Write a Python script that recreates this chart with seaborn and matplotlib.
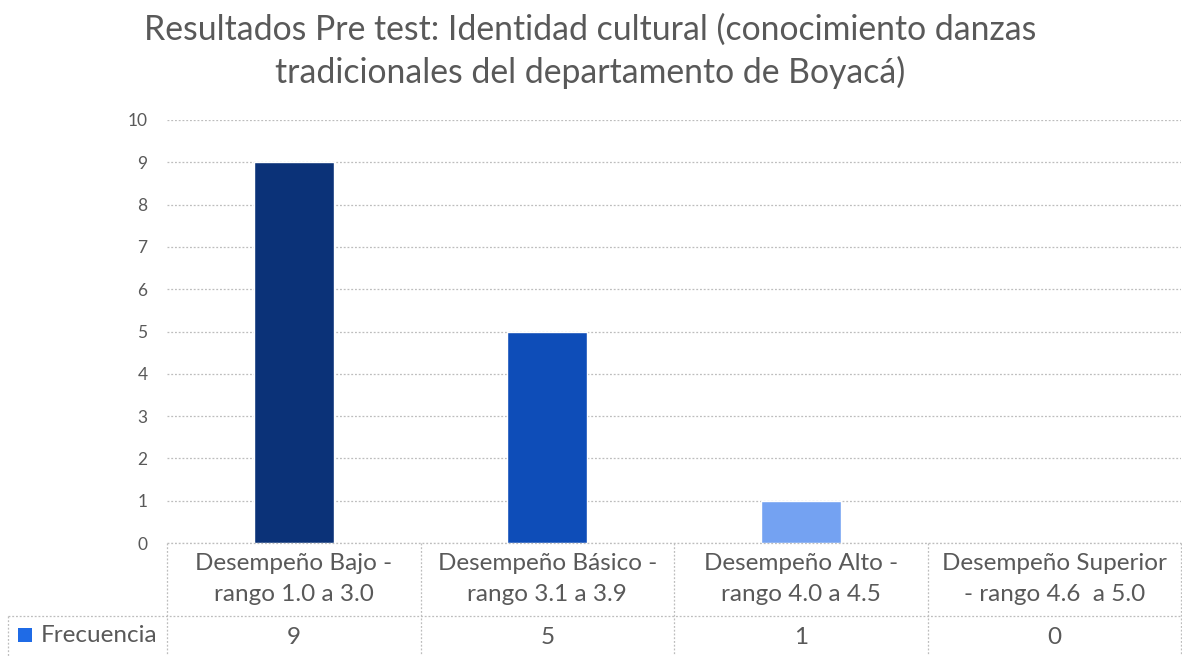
import numpy as np
import pandas as pd
import matplotlib
matplotlib.use("Agg")
import matplotlib.pyplot as plt
import matplotlib.transforms as mtransforms
import seaborn as sns

# Data
categorias = ["Desempeño Bajo -\nrango 1.0 a 3.0",
              "Desempeño Básico -\nrango 3.1 a 3.9",
              "Desempeño Alto -\nrango 4.0 a 4.5",
              "Desempeño Superior\n- rango 4.6  a 5.0"]
frecuencia = [9, 5, 1, 0]
serie = "Frecuencia"
colores = ["#0B3278", "#0E4DB8", "#74A2F2", "#9DC3F7"]

titulo = "Resultados Pre test: Identidad cultural (conocimiento danzas\ntradicionales del departamento de Boyacá)"

df = pd.DataFrame({"categoria": categorias, "valor": frecuencia})

sns.set_style("white")
plt.rcParams["font.family"] = ["Lato", "DejaVu Sans"]
gris = "#595959"

fig = plt.figure(figsize=(11.82, 6.56), dpi=100)
W, H = 1182, 656
ax = fig.add_axes([167 / W, (H - 543) / H, (1181 - 167) / W, (543 - 120) / H])

sns.barplot(data=df, x="categoria", y="valor", hue="categoria",
            palette=colores, saturation=1, width=0.315, legend=False, ax=ax, zorder=3)

ax.set_ylim(0, 10)
ax.set_xlim(-0.5, len(categorias) - 0.5)
ax.set_yticks(range(0, 11))
ax.yaxis.grid(True, color="#BDBDBD", linestyle=(0, (1.5, 1.5)), linewidth=0.9, zorder=0)
ax.xaxis.grid(False)
for s in ax.spines.values():
    s.set_visible(False)
ax.tick_params(axis="y", length=0, pad=14, labelsize=12.5, labelcolor=gris)
ax.set_xticks([])
ax.set_xlabel("")
ax.set_ylabel("")

# data table below the plot
line_kw = dict(color="#BDBDBD", linestyle=(0, (1.5, 1.5)), linewidth=0.9, clip_on=False)
tr_fig = fig.transFigure
def fy(py):
    return (H - py) / H

# horizontal lines
fig.add_artist(plt.Line2D([167 / W, 1181 / W], [fy(543), fy(543)], transform=tr_fig, **line_kw))
fig.add_artist(plt.Line2D([8 / W, 1181 / W], [fy(616), fy(616)], transform=tr_fig, **line_kw))
# vertical lines
fig.add_artist(plt.Line2D([8 / W, 8 / W], [fy(616), fy(656)], transform=tr_fig, **line_kw))
trans = mtransforms.blended_transform_factory(ax.transData, tr_fig)
for b in np.arange(-0.5, len(categorias) + 0.5, 1.0):
    ax.add_line(plt.Line2D([b, b], [fy(543), fy(656)], transform=trans, **line_kw))

for i, (cat, val) in enumerate(zip(categorias, frecuencia)):
    ax.text(i, fy(579), cat, transform=trans, ha="center", va="center",
            fontsize=17.5, color=gris, linespacing=1.6)
    ax.text(i, fy(637), str(val), transform=trans, ha="center", va="center",
            fontsize=17.5, color=gris)

# legend key in table
fig.patches.append(plt.Rectangle((18 / W, fy(642)), 14 / W, 14 / H, transform=tr_fig,
                                 facecolor="#1F6BE6", edgecolor="none"))
fig.text(41 / W, fy(636), serie, ha="left", va="center", fontsize=17.5, color=gris)

fig.text(590 / W, fy(51), titulo, ha="center", va="center", fontsize=24.3,
         color=gris, linespacing=1.36)

fig.savefig("out.png", dpi=100)
